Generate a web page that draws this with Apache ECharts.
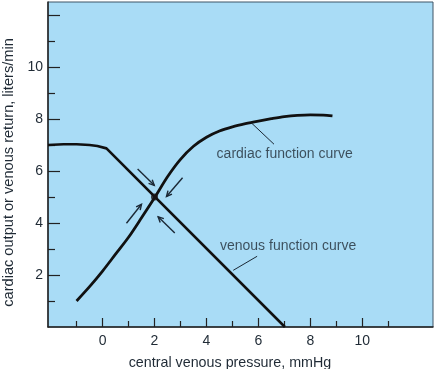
<!DOCTYPE html>
<html>
<head>
<meta charset="utf-8">
<script src="https://cdn.jsdelivr.net/npm/echarts@6/dist/echarts.min.js"></script>
<style>html,body{margin:0;padding:0;background:#fff}#c{width:438px;height:369px}</style>
</head>
<body>
<div id="c"></div>
<script>
// Curve data: [central venous pressure, flow]
var cardiacCurve = [[-1,1.0],[-0.5,1.55],[0,2.15],[0.5,2.8],[1,3.45],[1.5,4.2],[2,4.97],[2.5,5.78],[3,6.45],[3.5,6.95],[4,7.3],[4.5,7.54],[5,7.7],[5.5,7.82],[6,7.92],[6.5,8.01],[7,8.09],[7.5,8.14],[8,8.16],[8.5,8.15],[8.85,8.12]];
var venousCurve = [[-2.1,7.0],[-1.5,7.03],[-1,7.03],[-0.5,7.0],[-0.2,6.96],[0.15,6.87],[7.02,0]];
var equilibrium = [[2,5]];
// arrows: [x1,y1,x2,y2] (tail -> head)
var arrows = [[1.35,6.08,1.99,5.45],[3.08,5.74,2.46,5.02],[0.92,3.99,1.5,4.72],[2.78,3.62,2.14,4.24]];
// leader lines: [x1,y1,x2,y2]
var leaders = [[5.74,7.84,6.6,7.03],[5.95,2.72,5.03,2.18]];
// curve labels: [x,y,text]
var curveLabels = [[4.39,6.65,'cardiac function curve'],[4.52,3.12,'venous function curve']];
var xLabelValues = [0,2,4,6,8,10];
var xMajorTicks = [0,2,4,6,8,10];
var xMinorTicks = [-1,1,3,5,7,9,11];
var yLabelValues = [2,4,6,8,10];
var yMajorTicks = [2,4,6,8,10,12];
var yMinorTicks = [1,3,5,7,9,11];
var xName = 'central venous pressure, mmHg';
var yName = 'cardiac output or venous return, liters/min';

var FONT = '"Liberation Sans", Arial, sans-serif';
var TXT = '#1f2a35';
var XMIN = -2.1, XMAX = 12.72, YMIN = 0, YMAX = 12.5;

var chart = echarts.init(document.getElementById('c'), null, {renderer:'canvas'});

function segItem(withHead){
  return function(params, api){
    var p1 = api.coord([api.value(0), api.value(1)]);
    var p2 = api.coord([api.value(2), api.value(3)]);
    var children = [{type:'line', shape:{x1:p1[0],y1:p1[1],x2:p2[0],y2:p2[1]}, style:{stroke:'#1b2835', lineWidth: withHead?1.4:1}}];
    if (withHead){
      var ang = Math.atan2(p2[1]-p1[1], p2[0]-p1[0]);
      var L = 6, a = 0.45;
      var h1 = [p2[0]-L*Math.cos(ang-a), p2[1]-L*Math.sin(ang-a)];
      var h2 = [p2[0]-L*Math.cos(ang+a), p2[1]-L*Math.sin(ang+a)];
      children.push({type:'polyline', shape:{points:[h1,p2,h2]}, style:{stroke:'#1b2835', lineWidth:1.4, fill:null}});
    }
    return {type:'group', children:children};
  };
}

var option = {
  animation:false,
  backgroundColor:'#ffffff',
  grid:{left:48, top:2, right:5, bottom:42, containLabel:false, outerBoundsMode:'none', show:true, backgroundColor:'#a9dcf6', borderColor:'#3f5566', borderWidth:1},
  xAxis:[{
    type:'value', min:XMIN, max:XMAX, position:'bottom',
    name:xName, nameLocation:'middle', nameGap:29,
    nameTextStyle:{fontFamily:FONT, fontSize:14.3, color:TXT, padding:[0,21,0,0]},
    axisLine:{show:true, onZero:false, lineStyle:{color:'#222', width:1.5}},
    axisTick:{show:true, inside:true, length:9, customValues:xMajorTicks, lineStyle:{color:'#222', width:1.2}},
    axisLabel:{show:true, customValues:xLabelValues, margin:7, fontFamily:FONT, fontSize:14, color:TXT},
    splitLine:{show:false}
  },{
    type:'value', min:XMIN, max:XMAX, position:'bottom',
    axisLine:{show:false, onZero:false},
    axisTick:{show:true, inside:true, length:6, customValues:xMinorTicks, lineStyle:{color:'#222', width:1.2}},
    axisLabel:{show:false},
    splitLine:{show:false}
  }],
  yAxis:[{
    type:'value', min:YMIN, max:YMAX, position:'left',
    name:yName, nameLocation:'middle', nameGap:31, nameRotate:90,
    nameTextStyle:{fontFamily:FONT, fontSize:14.6, color:TXT, padding:[0,16,0,0]},
    axisLine:{show:true, onZero:false, lineStyle:{color:'#222', width:1.5}},
    axisTick:{show:true, inside:true, length:12, customValues:yMajorTicks, lineStyle:{color:'#222', width:1.2}},
    axisLabel:{show:true, customValues:yLabelValues, margin:5, fontFamily:FONT, fontSize:14, color:TXT},
    splitLine:{show:false}
  },{
    type:'value', min:YMIN, max:YMAX, position:'left',
    axisLine:{show:false, onZero:false},
    axisTick:{show:true, inside:true, length:7, customValues:yMinorTicks, lineStyle:{color:'#222', width:1.2}},
    axisLabel:{show:false},
    splitLine:{show:false}
  }],
  series:[
    {type:'line', data:venousCurve, smooth:false, symbol:'none', lineStyle:{color:'#111', width:2.6, join:'round'}, clip:true},
    {type:'line', data:cardiacCurve, smooth:0.3, symbol:'none', lineStyle:{color:'#111', width:2.8}, clip:true},
    {type:'custom', renderItem:segItem(true), data:arrows, encode:{x:[0,2], y:[1,3]}, z:5},
    {type:'custom', renderItem:segItem(false), data:leaders, encode:{x:[0,2], y:[1,3]}, z:5},
    {type:'scatter', data:equilibrium, symbolSize:7, itemStyle:{color:'#1a1414'}, z:6},
    {type:'scatter', data:curveLabels.map(function(d){return [d[0],d[1],d[2]];}), symbolSize:0,
      label:{show:true, position:'inside', align:'left', verticalAlign:'middle', fontFamily:FONT, fontSize:14, color:TXT,
        formatter:function(p){return p.value[2];}}, z:7}
  ]
};
chart.setOption(option);
</script>
</body>
</html>
